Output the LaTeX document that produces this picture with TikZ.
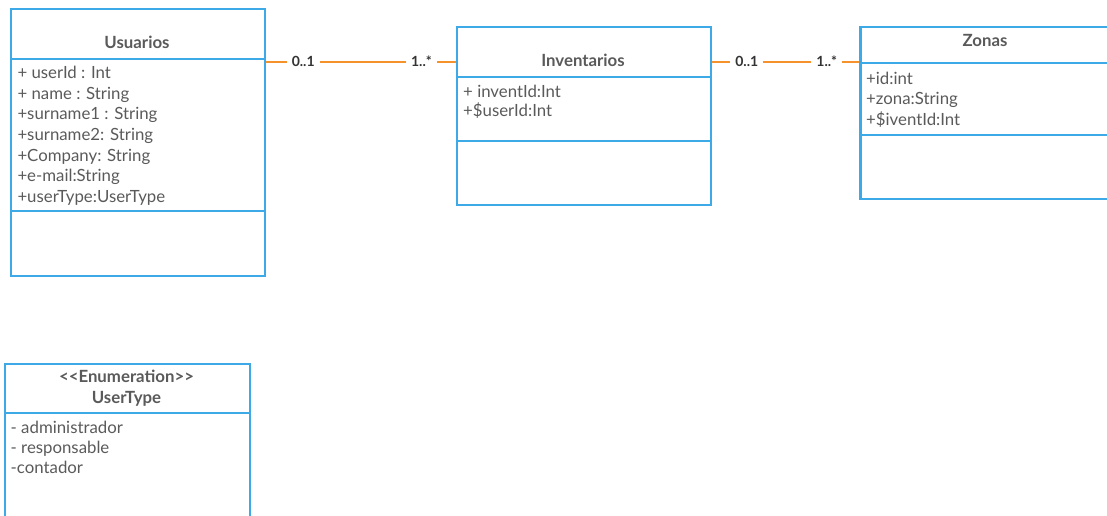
\documentclass[tikz,border=0pt]{standalone}
\usepackage{fontspec}
\setmainfont{Lato}
\definecolor{umlblue}{HTML}{3DA9E6}
\definecolor{umlorange}{HTML}{F5922B}
\definecolor{txt}{HTML}{5A5A5A}
\definecolor{lbl}{HTML}{333333}
\begin{document}
\begin{tikzpicture}[x=1pt,y=-1pt,
  box/.style={draw=umlblue,line width=2.2pt,inner sep=0pt,anchor=north west},
  divider/.style={draw=umlblue,line width=2.2pt},
  ttl/.style={font=\fontsize{16.8}{20}\selectfont\bfseries,text=txt,anchor=base,inner sep=0pt},
  attr/.style={font=\fontsize{16.8}{20}\selectfont,text=txt,anchor=base west,inner sep=0pt},
  mult/.style={font=\fontsize{14}{16}\selectfont\bfseries,text=lbl,fill=white,inner xsep=5pt,inner ysep=2pt},
  assoc/.style={draw=umlorange,line width=2.2pt}]
\useasboundingbox (0,0) rectangle (1107,516);
\clip (0,0) rectangle (1107,516);

% Usuarios
\node[box,minimum width=254pt,minimum height=267pt] (usr) at (10,8) {};
\draw[divider] (10,59.3) -- (264,59.3);
\draw[divider] (10,211) -- (264,211);
\node[ttl] (usrT) at (137,48.3) {Usuarios};
\node[attr] (u1) at (17.3,79) {+ userId : Int};
\node[attr] (u2) at (17.3,99.5) {+ name : String};
\node[attr] (u3) at (17.3,120) {+surname1 : String};
\node[attr] (u4) at (17.3,140.5) {+surname2: String};
\node[attr] (u5) at (17.3,161) {+Company: String};
\node[attr] (u6) at (17.3,181.5) {+e-mail:String};
\node[attr] (u7) at (17.3,202) {+userType:UserType};

% Inventarios
\node[box,minimum width=254pt,minimum height=177.5pt] (inv) at (456,26) {};
\draw[divider] (456,77.3) -- (710,77.3);
\draw[divider] (456,140.7) -- (710,140.7);
\node[ttl] (invT) at (583,66.7) {Inventarios};
\node[attr] (i1) at (463,97.3) {+ inventId:Int};
\node[attr] (i2) at (463,117) {+\$userId:Int};

% Zonas
\node[box,minimum width=300pt,minimum height=171.5pt] (zon) at (859.3,26) {};
\draw[divider] (859.3,63.3) -- (1107,63.3);
\draw[divider] (859.3,135) -- (1107,135);
\node[ttl] (zonT) at (985,46.7) {Zonas};
\node[attr] (z1) at (866,84.3) {+id:int};
\node[attr] (z2) at (866,105) {+zona:String};
\node[attr] (z3) at (866,125.3) {+\$iventId:Int};

% UserType
\node[box,minimum width=245pt,minimum height=200pt] (ut) at (4,362.5) {};
\draw[divider] (4,413.3) -- (249,413.3);
\node[ttl] (utS) at (126.5,382.3) {{<}{<}Enumeration{>}{>}};
\node[ttl] (utT) at (126.5,403.3) {UserType};
\node[attr] (t1) at (10.5,433.3) {- administrador};
\node[attr] (t2) at (10.5,453) {- responsable};
\node[attr] (t3) at (10.5,473) {-contador};

% Associations
\draw[assoc] ([yshift=-53.7pt]usr.north east) --
  node[mult,pos=0.195] (m1) {0..1}
  node[mult,pos=0.818] (m2) {1..*}
  ([yshift=-35.7pt]inv.north west);
\draw[assoc] ([yshift=-35.7pt]inv.north east) --
  node[mult,pos=0.235] (m3) {0..1}
  node[mult,pos=0.779] (m4) {1..*}
  ([yshift=-35.7pt]zon.north west);
\end{tikzpicture}
\end{document}
